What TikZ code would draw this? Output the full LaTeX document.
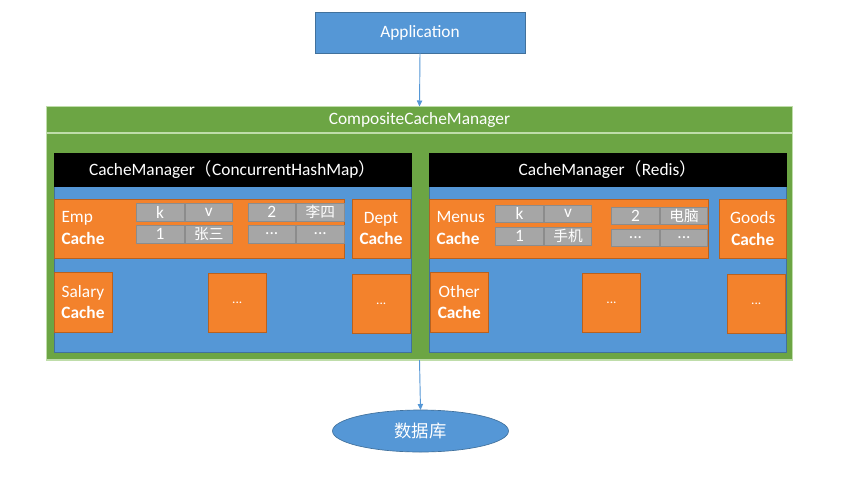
\documentclass[tikz,border=0pt]{standalone}
\usepackage{fontspec}
\setmainfont{Carlito}
\newfontfamily\cjk{Noto Sans CJK SC}
\usetikzlibrary{shapes.geometric,arrows.meta}
\definecolor{obl}{HTML}{5597D6}
\definecolor{oblD}{HTML}{41719C}
\definecolor{oor}{HTML}{F3822C}
\definecolor{oorD}{HTML}{B8611F}
\definecolor{ogr}{HTML}{6CA544}
\definecolor{ogrL}{HTML}{BFDDAA}
\definecolor{ogy}{HTML}{A6A6A6}
\definecolor{ogyD}{HTML}{8C8C8C}
\begin{document}
\begin{tikzpicture}[x=0.75pt,y=-0.75pt,
  every node/.style={inner sep=0pt,outer sep=0pt,text=white,font=\fontsize{13}{16}\selectfont},
  rr/.style n args={4}{rectangle,minimum width={(#3-#1)*0.75pt},minimum height={(#4-#2)*0.75pt},at={({(#1+#3)/2},{(#2+#4)/2})}},
  bluebox/.style={fill=obl,draw=oblD,line width=0.5pt},
  greenbox/.style={fill=ogr,draw=ogrL,line width=1pt},
  blackbox/.style={fill=black,draw=black},
  obox/.style={fill=oor,draw=oorD,line width=0.5pt,align=center},
  cell/.style={fill=ogy,draw=ogyD,line width=0.4pt},
  cjkcell/.style={cell,font=\cjk\fontsize{11}{13}\selectfont},
  dots/.style={obox,font=\fontsize{10}{12}\selectfont},
  conn/.style={draw=obl,line width=0.7pt,-{Triangle[length=4.5pt,width=4pt]}}]
\useasboundingbox (0,0) rectangle (863,479);
\fill[white] (0,0) rectangle (863,479);

% Application
\node[bluebox,rr={315}{12.5}{525}{53}] (app) {Application};

% CompositeCacheManager
\node[greenbox,rr={46.5}{106.5}{792.5}{360}] (comp) {};
\node[greenbox,rr={46.5}{106.5}{792.5}{133}] (comptitle) {CompositeCacheManager};

% Left CacheManager
\node[bluebox,rr={54}{186}{411}{352}] (lbody) {};
\node[blackbox,rr={54}{153.5}{411}{186}] (lhead) {CacheManager{\cjk（}ConcurrentHashMap{\cjk）}};
\node[obox,rr={54}{199}{344}{258}] (emp) {};
\node[anchor=west,align=left] (emptext) at (61.5,228) {Emp\\\textbf{Cache}};
\node[cell,rr={136}{203.5}{184}{221}] (lk) {k};
\node[cell,rr={185}{203.5}{232.5}{221}] (lv) {v};
\node[cell,rr={136}{225}{184}{243}] (l1) {1};
\node[cjkcell,rr={185}{225}{232.5}{243}] (l1v) {张三};
\node[cell,rr={248}{203.5}{295.5}{221}] (l2) {2};
\node[cjkcell,rr={296.5}{203.5}{344}{221}] (l2v) {李四};
\node[cell,rr={248}{225}{295.5}{243}] (l3) {...};
\node[cell,rr={296.5}{225}{344}{243}] (l3v) {...};
\node[obox,rr={352}{199}{410}{258}] (dept) {Dept\\\textbf{Cache}};
\node[obox,rr={54}{272.5}{112}{332}] (salary) {Salary\\\textbf{Cache}};
\node[dots,rr={208}{273.5}{266.5}{332.5}] (ldots1) {...};
\node[dots,rr={352}{274.5}{410.5}{333.5}] (ldots2) {...};

% Right CacheManager
\node[bluebox,rr={429.5}{186}{786}{352}] (rbody) {};
\node[blackbox,rr={429.5}{153.5}{786}{186}] (rhead) {CacheManager{\cjk（}Redis{\cjk）}};
\node[obox,rr={429.5}{199}{708.5}{258}] (menus) {};
\node[anchor=west,align=left] (menustext) at (436.5,228) {Menus\\\textbf{Cache}};
\node[cell,rr={495.5}{205}{543.5}{222.5}] (rk) {k};
\node[cell,rr={544.5}{205}{591.5}{222.5}] (rv) {v};
\node[cell,rr={495.5}{227.5}{543.5}{245}] (r1) {1};
\node[cjkcell,rr={544.5}{227.5}{591.5}{245}] (r1v) {手机};
\node[cell,rr={611.5}{207.5}{659.5}{224}] (r2) {2};
\node[cjkcell,rr={660.5}{207.5}{707.5}{224}] (r2v) {电脑};
\node[cell,rr={611.5}{229.5}{659.5}{246.5}] (r3) {...};
\node[cell,rr={660.5}{229.5}{707.5}{246.5}] (r3v) {...};
\node[obox,rr={719.5}{199}{786}{258}] (goods) {Goods\\\textbf{Cache}};
\node[obox,rr={430}{272.5}{488.5}{332}] (other) {Other\\\textbf{Cache}};
\node[dots,rr={582.5}{273.5}{640.5}{332.5}] (rdots1) {...};
\node[dots,rr={727}{274.5}{785.5}{333.5}] (rdots2) {...};

% Database
\node[ellipse,fill=obl,draw=oblD,line width=0.5pt,minimum width=176*0.75pt,minimum height=42*0.75pt,font=\cjk\fontsize{13}{16}\selectfont] (db) at (420.5,431) {数据库};

% Connectors
\draw[conn] (app.south) -- (comptitle.north);
\draw[conn] (comp.south) -- (db.north);
\end{tikzpicture}
\end{document}
